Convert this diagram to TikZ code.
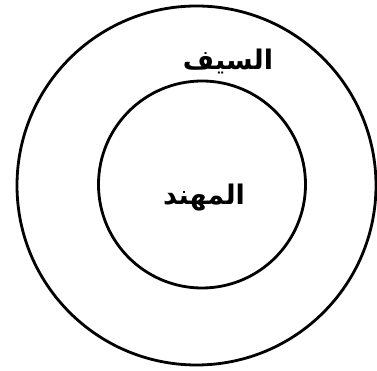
\documentclass[tikz,border=0pt]{standalone}
\usepackage{fontspec}
\newfontfamily\arabicfont[Script=Arabic]{DejaVu Sans}
\TeXXeTstate=1
\usetikzlibrary{positioning}

\begin{document}
\begin{tikzpicture}[x=1pt, y=1pt,
      ring/.style={circle, draw=black, line width=2.8pt, inner sep=0pt},
      word/.style={font=\arabicfont\bfseries\fontsize{27}{30}\selectfont, inner sep=0pt}
    ]
    \useasboundingbox (0,0) rectangle (377,371);
    \node[ring, minimum size=359pt] (sayf) at (196.5,185.5) {};
    \node[ring, minimum size=207pt] (muhannad) at (202,186.5) {};

    \node[word] (sayflabel) at (228,310) {\beginR السيف\endR};
    \node[word] (muhannadlabel) at (204,173) {\beginR المهند\endR};
  \end{tikzpicture}
\end{document}
